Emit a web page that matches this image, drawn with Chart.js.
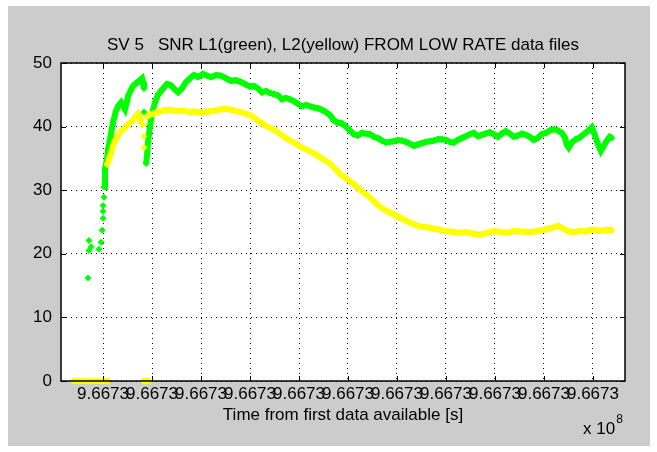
<!DOCTYPE html>
<html>
<head>
<meta charset="utf-8">
<script src="https://cdn.jsdelivr.net/npm/chart.js@4.4.0/dist/chart.umd.min.js"></script>
<style>
  html, body { margin: 0; padding: 0; background: #fff; }
</style>
</head>
<body>
<canvas id="snr_chart" width="657" height="452"></canvas>
<script>
// time axis: seconds after T0, ticks every 500 s (all of them read 9.6673 x 10^8)
const T0 = 966726000;
const timeTicks = [0, 500, 1000, 1500, 2000, 2500, 3000, 3500, 4000, 4500, 5000];
const timeMin = -429;
const timeMax = 5327;
const snrTicks = [0, 10, 20, 30, 40, 50];

// L1 (green) - first pass before the short drop-out
const l1Arc1Time = [10, 20, 41, 51, 71, 102, 133, 153, 184, 194, 224, 245, 255, 286, 306, 337, 377, 398, 408, 418];
const l1Arc1Snr  = [30.5, 33.3, 35.0, 36.4, 38.0, 40.7, 42.5, 43.2, 43.8, 43.5, 42.7, 44.0, 44.8, 45.8, 46.4, 46.8, 47.3, 47.6, 47.0, 46.0];

// L1 (green) - main pass
const l1Arc2Time = [439, 449, 459, 479, 500, 530, 561, 602, 653, 694, 734, 765, 806, 847, 887, 928, 969, 1020, 1061, 1102,
  1153, 1204, 1255, 1306, 1357, 1408, 1459, 1499, 1540, 1581, 1622, 1663, 1703, 1744, 1785, 1826, 1867, 1907, 1948, 1989,
  2030, 2071, 2111, 2152, 2193, 2234, 2275, 2315, 2356, 2397, 2438, 2479, 2519, 2560, 2601, 2642, 2683, 2723, 2764, 2805,
  2846, 2887, 2927, 2968, 3009, 3050, 3091, 3131, 3172, 3213, 3254, 3295, 3335, 3376, 3417, 3458, 3499, 3539, 3580, 3621,
  3662, 3703, 3743, 3784, 3825, 3866, 3907, 3947, 3988, 4029, 4070, 4111, 4151, 4192, 4233, 4274, 4315, 4355, 4396, 4437,
  4478, 4519, 4559, 4600, 4641, 4682, 4712, 4733, 4753, 4784, 4825, 4865, 4906, 4947, 4988, 5018, 5049, 5080, 5110, 5141,
  5172, 5192];
const l1Arc2Snr = [34.2, 35.5, 37.5, 40.0, 42.0, 43.8, 45.0, 45.8, 46.7, 46.5, 45.8, 45.4, 46.0, 47.0, 47.6, 48.1, 47.8, 48.3, 48.0, 47.8,
  48.1, 48.0, 47.6, 47.2, 47.3, 47.0, 46.6, 46.3, 46.4, 46.0, 45.4, 45.6, 45.3, 45.1, 44.9, 44.3, 44.5, 44.3, 44.0, 43.6,
  43.2, 43.4, 43.2, 43.0, 42.9, 42.6, 42.3, 41.8, 41.0, 40.6, 40.5, 40.0, 39.4, 38.8, 38.6, 39.0, 38.9, 38.8, 38.4, 38.2,
  37.8, 37.5, 37.6, 37.7, 37.9, 37.8, 37.6, 37.3, 37.0, 37.2, 37.4, 37.6, 37.7, 37.8, 38.0, 38.0, 37.9, 37.6, 37.5, 37.9,
  38.2, 38.5, 38.8, 39.0, 38.5, 38.7, 38.9, 39.1, 38.8, 38.4, 38.9, 39.3, 38.9, 38.4, 38.6, 38.9, 38.7, 38.4, 37.9, 38.2,
  38.8, 39.0, 39.4, 39.6, 39.4, 39.0, 38.3, 37.2, 36.7, 37.5, 38.0, 38.3, 38.8, 39.3, 39.9, 38.7, 37.3, 36.2, 37.0, 37.8,
  38.4, 38.2];

// L1 (green) - scattered samples at acquisition
const l1SparseTime = [-153, -143, -143, -122, -41, -20, -10, 0, 0, 0, 10, 418, 418];
const l1SparseSnr  = [16.2, 20.5, 22.1, 21.1, 20.7, 21.8, 23.7, 25.6, 26.7, 27.6, 28.9, 42.3, 46.2];

// L2 (yellow) - first pass
const l2Arc1Time = [41, 61, 82, 102, 122, 153, 184, 214, 245, 275, 306, 337, 357, 377, 388];
const l2Arc1Snr  = [34.0, 35.0, 35.8, 37.0, 37.8, 38.6, 39.3, 39.7, 40.2, 40.6, 41.0, 41.6, 42.0, 41.5, 40.6];

// L2 (yellow) - main pass
const l2Arc2Time = [449, 479, 510, 551, 592, 632, 683, 734, 785, 836, 887, 938, 989, 1040, 1091, 1142, 1193, 1244, 1295, 1346,
  1397, 1448, 1499, 1550, 1601, 1652, 1703, 1754, 1805, 1856, 1907, 1958, 2009, 2060, 2111, 2162, 2213, 2264, 2315, 2366,
  2417, 2468, 2519, 2570, 2621, 2672, 2723, 2774, 2825, 2876, 2927, 2978, 3029, 3080, 3131, 3182, 3233, 3284, 3335, 3386,
  3437, 3488, 3539, 3590, 3641, 3692, 3743, 3794, 3845, 3896, 3947, 3998, 4049, 4100, 4151, 4202, 4253, 4304, 4355, 4406,
  4457, 4508, 4559, 4610, 4641, 4682, 4722, 4763, 4814, 4865, 4916, 4967, 5018, 5069, 5120, 5172, 5192];
const l2Arc2Snr = [41.5, 41.9, 42.0, 42.3, 42.4, 42.6, 42.6, 42.5, 42.4, 42.5, 42.3, 42.4, 42.2, 42.3, 42.4, 42.5, 42.7, 42.8, 42.7, 42.5,
  42.3, 42.1, 41.8, 41.3, 40.7, 40.2, 39.8, 39.4, 38.9, 38.3, 37.8, 37.4, 36.9, 36.5, 36.1, 35.7, 35.2, 34.7, 34.2, 33.4,
  32.6, 32.0, 31.4, 30.8, 30.1, 29.5, 28.9, 28.1, 27.4, 26.9, 26.5, 26.1, 25.7, 25.3, 24.9, 24.6, 24.3, 24.2, 24.1, 23.9,
  23.8, 23.6, 23.5, 23.4, 23.3, 23.4, 23.3, 23.1, 23.0, 23.2, 23.4, 23.6, 23.4, 23.3, 23.4, 23.6, 23.5, 23.5, 23.4, 23.5,
  23.7, 23.8, 24.0, 24.2, 24.4, 24.1, 23.7, 23.5, 23.4, 23.6, 23.5, 23.7, 23.8, 23.6, 23.7, 23.8, 23.7];

// L2 (yellow) - scattered samples in the gap
const l2SparseTime = [408, 418, 418];
const l2SparseSnr  = [40.3, 38.5, 36.7];

// L2 (yellow) - zero readings (no L2 lock)
const l2ZeroTime = [-306, -286, -265, -245, -224, -204, -184, -163, -143, -122, -102, -82, -61, -41, -20, 0, 20, 41, 51,
  408, 418, 429, 439, 449, 459, 469];
const l2ZeroSnr  = [0, 0, 0, 0, 0, 0, 0, 0, 0, 0, 0, 0, 0, 0, 0, 0, 0, 0, 0,
  0, 0, 0, 0, 0, 0, 0];

const FONT = "'Liberation Sans', Arial, Helvetica, sans-serif";
const FONT_SIZE = 17;
const GREEN = '#00ff00';
const YELLOW = '#ffff00';

function toPoints(times, values) {
  return times.map((t, i) => ({ x: t, y: values[i] }));
}

function bandSet(times, values, color, order) {
  return {
    data: toPoints(times, values),
    showLine: true,
    borderColor: color,
    backgroundColor: color,
    borderWidth: 6,
    pointStyle: 'rectRot',
    pointRadius: 3.5,
    pointBorderWidth: 0,
    clip: false,
    order: order
  };
}

function dotSet(times, values, color, order) {
  return {
    data: toPoints(times, values),
    showLine: false,
    borderColor: color,
    backgroundColor: color,
    pointStyle: 'rectRot',
    pointRadius: 3.5,
    pointBorderWidth: 0,
    clip: false,
    order: order
  };
}

// figure background, axes box with inward ticks, exponent label
const matlabFrame = {
  id: 'matlabFrame',
  beforeDraw(chart) {
    const ctx = chart.ctx;
    const a = chart.chartArea;
    ctx.save();
    ctx.fillStyle = '#ffffff';
    ctx.fillRect(0, 0, chart.width, chart.height);
    ctx.fillStyle = '#cccccc';
    ctx.fillRect(8, 6, 642, 440);
    ctx.fillStyle = '#ffffff';
    ctx.fillRect(a.left, a.top, a.right - a.left, a.bottom - a.top);
    ctx.restore();
  },
  afterDatasetsDraw(chart) {
    const ctx = chart.ctx;
    const a = chart.chartArea;
    const xs = chart.scales.x;
    const ys = chart.scales.y;
    ctx.save();
    ctx.strokeStyle = '#000000';
    ctx.lineWidth = 1;
    ctx.beginPath();
    xs.ticks.forEach(t => {
      const px = Math.round(xs.getPixelForValue(t.value)) + 0.5;
      ctx.moveTo(px, a.bottom); ctx.lineTo(px, a.bottom - 5);
      ctx.moveTo(px, a.top); ctx.lineTo(px, a.top + 5);
    });
    ys.ticks.forEach(t => {
      const py = Math.round(ys.getPixelForValue(t.value)) + 0.5;
      ctx.moveTo(a.left, py); ctx.lineTo(a.left + 5, py);
      ctx.moveTo(a.right, py); ctx.lineTo(a.right - 5, py);
    });
    ctx.stroke();
    ctx.lineWidth = 1.5;
    ctx.strokeRect(a.left, a.top, a.right - a.left, a.bottom - a.top);
    // exponent of the time axis
    ctx.fillStyle = '#000000';
    ctx.textBaseline = 'middle';
    ctx.font = FONT_SIZE + 'px ' + FONT;
    ctx.fillText('x 10', 583, 429);
    const w = ctx.measureText('x 10').width;
    ctx.font = '12px ' + FONT;
    ctx.fillText('8', 583 + w + 1, 420);
    ctx.restore();
  }
};

new Chart(document.getElementById('snr_chart'), {
  type: 'scatter',
  data: {
    datasets: [
      bandSet(l1Arc1Time, l1Arc1Snr, GREEN, 1),
      bandSet(l1Arc2Time, l1Arc2Snr, GREEN, 1),
      dotSet(l1SparseTime, l1SparseSnr, GREEN, 1),
      bandSet(l2Arc1Time, l2Arc1Snr, YELLOW, 0),
      bandSet(l2Arc2Time, l2Arc2Snr, YELLOW, 0),
      dotSet(l2SparseTime, l2SparseSnr, YELLOW, 0),
      dotSet(l2ZeroTime, l2ZeroSnr, YELLOW, 0)
    ]
  },
  options: {
    responsive: false,
    animation: false,
    devicePixelRatio: 1,
    layout: { padding: { left: 0, right: 32, top: 0, bottom: 0 } },
    scales: {
      x: {
        type: 'linear',
        min: timeMin,
        max: timeMax,
        afterFit: function(scale) { scale.height = 71; },
        afterBuildTicks: function(scale) {
          scale.ticks = timeTicks.map(v => ({ value: v }));
        },
        ticks: {
          autoSkip: false,
          maxRotation: 0,
          padding: 3,
          color: '#000',
          font: { family: FONT, size: FONT_SIZE },
          callback: function(value) {
            return ((T0 + value) / 1e8).toFixed(4);
          }
        },
        grid: { color: '#000', lineWidth: 1, drawTicks: false },
        border: { display: false, dash: [1, 4] },
        title: {
          display: true,
          text: 'Time from first data available [s]',
          color: '#000',
          font: { family: FONT, size: FONT_SIZE },
          padding: { top: 0, bottom: 26 }
        }
      },
      y: {
        min: 0,
        max: 50,
        afterFit: function(scale) { scale.width = 61; },
        afterBuildTicks: function(scale) {
          scale.ticks = snrTicks.map(v => ({ value: v }));
        },
        ticks: {
          padding: 9,
          color: '#000',
          font: { family: FONT, size: FONT_SIZE }
        },
        grid: { color: '#000', lineWidth: 1, drawTicks: false },
        border: { display: false, dash: [1, 4] }
      }
    },
    plugins: {
      legend: { display: false },
      tooltip: { enabled: false },
      title: {
        display: true,
        fullSize: false,
        text: 'SV 5   SNR L1(green), L2(yellow) FROM LOW RATE data files',
        color: '#000',
        font: { family: FONT, size: FONT_SIZE, weight: 'normal' },
        padding: { top: 35, bottom: 7.6 }
      }
    }
  },
  plugins: [matlabFrame]
});
</script>
</body>
</html>
